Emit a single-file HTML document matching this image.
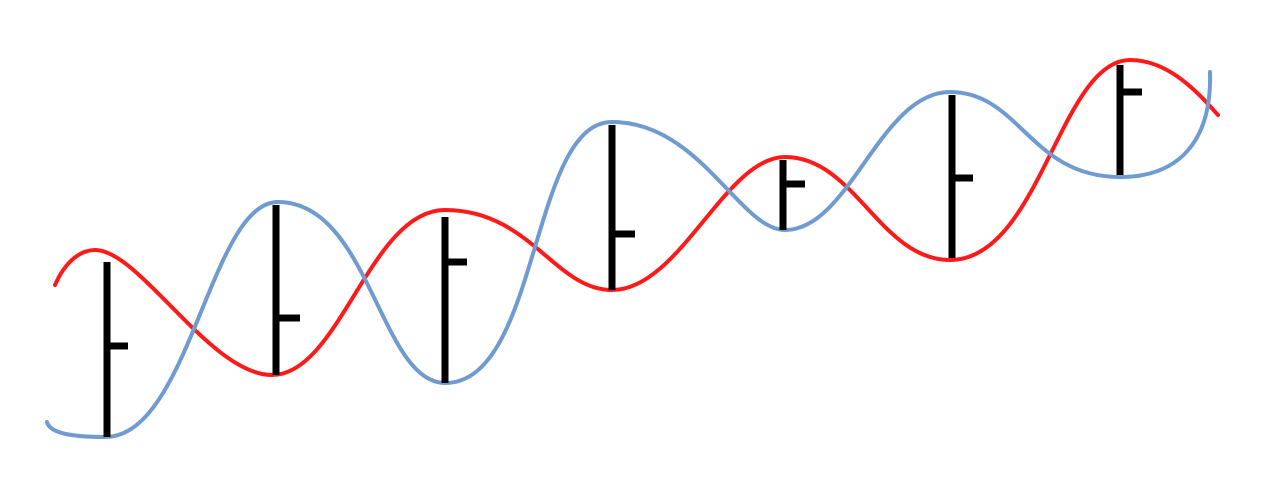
<!DOCTYPE html>
<html><head><style>html,body{margin:0;padding:0;background:#fff;}svg{display:block}</style></head>
<body>
<svg width="1264" height="496" viewBox="0 0 1264 496" xmlns="http://www.w3.org/2000/svg">
<g fill="none" stroke-width="4" stroke-linecap="round">
<path stroke="#ff1a1a" d="M55,285 C65,262 80,250 95,250 C140,250 210,375 272,375 C340,375 370,210 445,210 C530,210 555,290 612,290 C680,290 725,157 785,157 C855,157 880,260 950,260 C1040,260 1060,60 1130,60 C1170,60 1200,95 1218,115"/>
<path stroke="#6f9bd0" d="M47,422 C50,435 80,437 105,437 C190,437 210,202 278,202 C370,202 380,383 445,383 C540,383 530,122 612,122 C700,122 740,230 785,230 C850,230 880,92 950,92 C1020,92 1030,177 1120,177 C1180,177 1212,140 1210,72"/>
</g>
<g stroke="#000" stroke-width="7" fill="none">
<path d="M107,262V437 M107,346H128"/>
<path d="M276,205V375 M276,318H300"/>
<path d="M445,217V383 M445,262H467"/>
<path d="M612,125V290 M612,234H635"/>
<path d="M783,160V230 M783,184H805"/>
<path d="M952,95V258 M952,178H973"/>
<path d="M1120,65V175 M1120,92H1142"/>
</g>
</svg>
</body></html>
